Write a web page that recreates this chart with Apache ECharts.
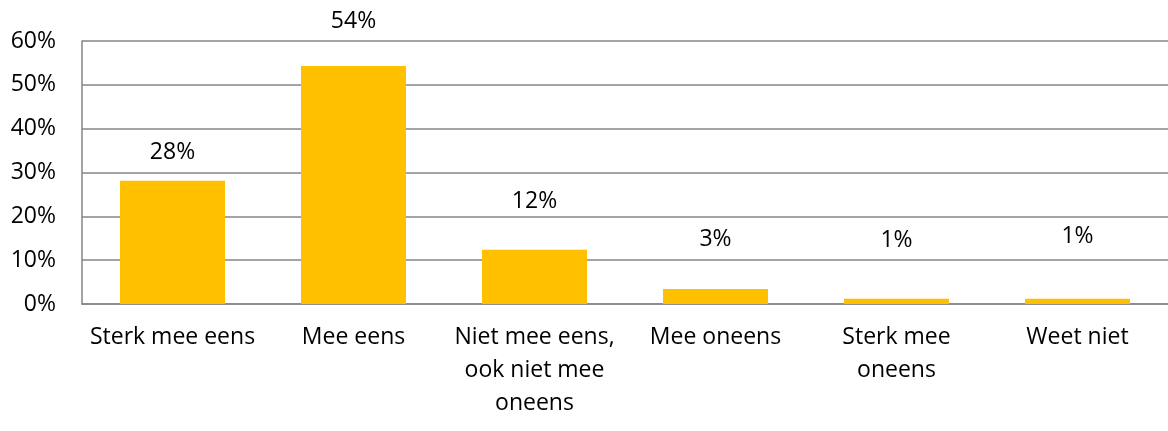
<!DOCTYPE html>
<html>
<head>
<meta charset="utf-8">
<script src="https://cdn.jsdelivr.net/npm/echarts@6/dist/echarts.min.js"></script>
<style>
  html, body { margin: 0; padding: 0; background: #ffffff; }
  #chart { width: 1168px; height: 431px; }
</style>
</head>
<body>
<div id="chart"></div>
<script>
// Data
const categories = ['Sterk mee eens', 'Mee eens', 'Niet mee eens,\nook niet mee\noneens', 'Mee oneens', 'Sterk mee\noneens', 'Weet niet'];
const values = [28.1, 54.3, 12.4, 3.4, 1.2, 1.2];
const yTicks = [0, 10, 20, 30, 40, 50, 60];

// Styling (label gaps above each bar, as placed in the original)
const labelGaps = [17, 33, 37, 38, 47, 51];
const FONT = '"Open Sans", "Liberation Sans", sans-serif';

const chart = echarts.init(document.getElementById('chart'), null, { renderer: 'canvas' });
chart.setOption({
  animation: false,
  backgroundColor: '#ffffff',
  grid: { left: 82, top: 41, width: 1092, height: 263, containLabel: false },
  xAxis: {
    type: 'category',
    data: categories,
    axisLine: { show: true, lineStyle: { color: '#868686', width: 1.5 } },
    axisTick: { show: false },
    axisLabel: {
      interval: 0,
      color: '#000000',
      fontFamily: FONT,
      fontSize: 23,
      lineHeight: 33,
      margin: 17
    }
  },
  yAxis: {
    type: 'value',
    min: yTicks[0],
    max: yTicks[yTicks.length - 1],
    interval: 10,
    axisLine: { show: true, lineStyle: { color: '#868686', width: 1.5 } },
    axisTick: { show: false },
    splitLine: { show: true, lineStyle: { color: '#868686', width: 1.5 } },
    axisLabel: {
      color: '#000000',
      fontFamily: FONT,
      fontSize: 23,
      margin: 26,
      formatter: v => v + '%'
    }
  },
  series: [{
    type: 'bar',
    barWidth: '58%',
    itemStyle: { color: '#FFC000' },
    data: values.map((v, i) => ({
      value: v,
      label: { distance: labelGaps[i] }
    })),
    label: {
      show: true,
      position: 'top',
      color: '#000000',
      fontFamily: FONT,
      fontSize: 23,
      lineHeight: 23,
      formatter: p => Math.round(p.value) + '%'
    }
  }]
});
</script>
</body>
</html>
